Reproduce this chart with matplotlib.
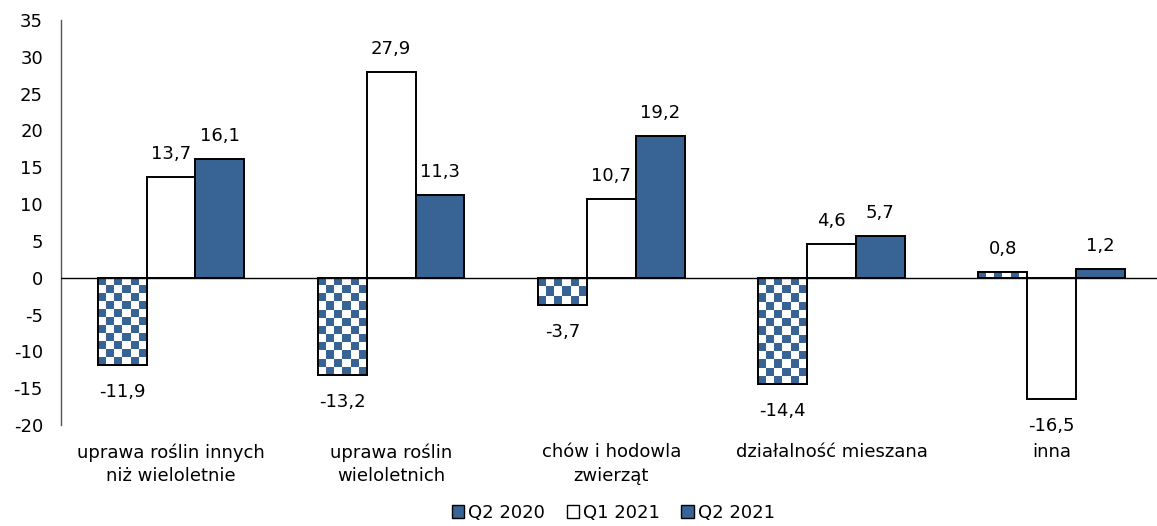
import numpy as np
import matplotlib.pyplot as plt
from matplotlib.patches import Patch
from matplotlib.colors import ListedColormap

plt.rcParams['font.family'] = ['DejaVu Sans']
plt.rcParams['axes.unicode_minus'] = False

categories = ['uprawa roślin innych\nniż wieloletnie', 'uprawa roślin\nwieloletnich',
              'chów i hodowla\nzwierząt', 'działalność mieszana', 'inna']
q2_2020 = [-11.9, -13.2, -3.7, -14.4, 0.8]
q1_2021 = [13.7, 27.9, 10.7, 4.6, -16.5]
q2_2021 = [16.1, 11.3, 19.2, 5.7, 1.2]
series_names = ['Q2 2020', 'Q1 2021', 'Q2 2021']

blue = '#386395'
fs = 13

fig = plt.figure(figsize=(11.57, 5.26), dpi=100)
ax = fig.add_axes([61/1157, 1 - 425/526, 1 - 61/1157 + 0.004, 405/526])

x = np.arange(len(categories))
w = 0.222
ylo, yhi = -20, 35
ax.set_xlim(-0.5, 4.5)
ax.set_ylim(ylo, yhi)

def label(xc, v):
    txt = f'{v:.1f}'.replace('.', ',')
    if v >= 0:
        ax.annotate(txt, (xc, v), xytext=(0, 10), textcoords='offset points',
                    ha='center', va='bottom', fontsize=fs)
    else:
        ax.annotate(txt, (xc, v), xytext=(0, -13), textcoords='offset points',
                    ha='center', va='top', fontsize=fs)

# checkerboard bars (Q2 2020)
cell_y = 8.3 / (405 / 55)
cmap = ListedColormap([blue, 'white'])
for xi, v in zip(x - w, q2_2020):
    bar = ax.bar(xi, v, w, color='white', edgecolor='black', linewidth=1.4, zorder=2)[0]
    ny = max(1, int(round(abs(v) / cell_y)))
    nx = 6
    grid = (np.indices((ny, nx)).sum(axis=0) % 2).astype(float)
    top, bot = max(v, 0), min(v, 0)
    im = ax.imshow(grid, cmap=cmap, extent=(xi - w/2, xi + w/2, bot, top),
                   origin='upper', aspect='auto', interpolation='nearest', zorder=2.5)
    im.set_clip_path(bar)
    ax.bar(xi, v, w, fill=False, edgecolor='black', linewidth=1.4, zorder=3)
    label(xi, v)

for xi, v in zip(x, q1_2021):
    ax.bar(xi, v, w, color='white', edgecolor='black', linewidth=1.4, zorder=3)
    label(xi, v)

for xi, v in zip(x + w, q2_2021):
    ax.bar(xi, v, w, color=blue, edgecolor='black', linewidth=1.4, zorder=3)
    label(xi, v)

ax.set_xlim(-0.5, 4.5)
ax.set_ylim(ylo, yhi)

ax.axhline(0, color='black', linewidth=1.0, zorder=4)
for s in ['top', 'right', 'bottom']:
    ax.spines[s].set_visible(False)
ax.spines['left'].set_color('#555555')
ax.spines['left'].set_linewidth(1.0)

ax.set_yticks(np.arange(-20, 36, 5))
ax.tick_params(axis='y', length=0, labelsize=fs, pad=13)
ax.set_xticks(x)
ax.set_xticklabels(categories, fontsize=fs, linespacing=1.4)
ax.tick_params(axis='x', length=0, pad=13)

handles = [Patch(facecolor=blue, edgecolor='black', linewidth=1.0),
           Patch(facecolor='white', edgecolor='black', linewidth=1.0),
           Patch(facecolor=blue, edgecolor='black', linewidth=1.0)]
fig.legend(handles, series_names, loc='center', bbox_to_anchor=(0.53, 1 - 513/526),
           ncol=3, frameon=False, fontsize=fs, handlelength=0.7, handleheight=0.7,
           handletextpad=0.2, columnspacing=1.2)

fig.savefig('out.png', dpi=100)
